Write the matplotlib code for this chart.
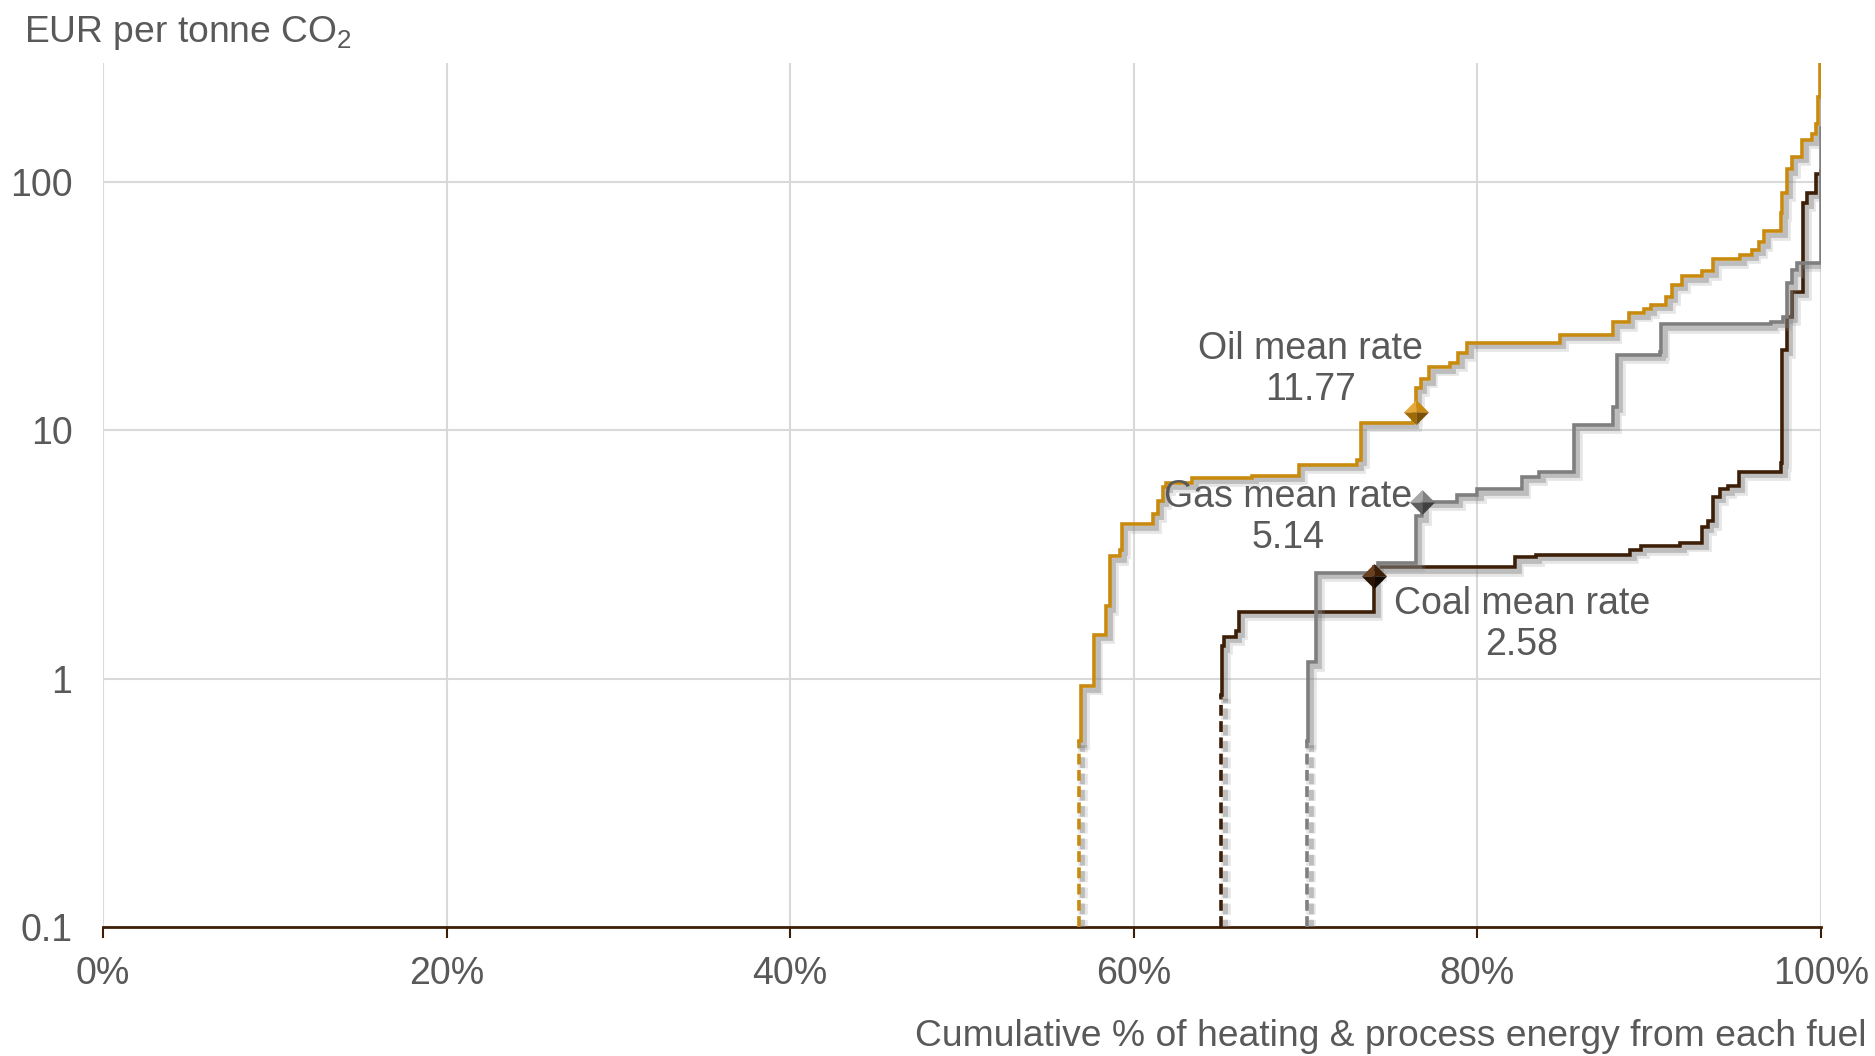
import matplotlib.pyplot as plt
import matplotlib.patheffects as pe
from matplotlib.ticker import NullLocator

plt.rcParams['font.family'] = ['Liberation Sans', 'DejaVu Sans']
plt.rcParams['mathtext.fontset'] = 'custom'
plt.rcParams['mathtext.rm'] = 'Liberation Sans'

# cumulative % of energy where each step starts, and the rate (EUR/tCO2) from there on
oil_x = [56.8, 56.9, 57.7, 58.4, 58.6, 59.2, 59.3, 61.1, 61.4, 61.7, 61.9, 63.4, 66.9,
         69.6, 73.0, 73.2, 76.25, 76.3, 76.4, 76.7, 77.2, 78.4, 78.9, 79.4, 84.8, 87.9,
         88.8, 89.7, 90.1, 91.0, 91.3, 91.9, 93.1, 93.7, 95.3, 96.0, 96.4, 96.7, 97.7,
         97.75, 98.0, 98.3, 98.9, 99.5, 99.7, 99.85, 99.95, 100.0]
oil_y = [0.56, 0.93, 1.5, 1.95, 3.1, 3.3, 4.17, 4.6, 5.2, 5.9, 6.1, 6.44, 6.55,
         7.26, 7.6, 10.7, 11.2, 12.5, 14.8, 16.0, 17.9, 18.7, 20.5, 22.5, 24.2, 27.1,
         29.5, 30.6, 32.0, 34.4, 38.5, 41.5, 43.5, 48.6, 50.8, 53.2, 56.9, 63.0, 75.0,
         90.0, 112.0, 126.0, 147.0, 155.0, 170.0, 220.0, 300.0, 300.0]

gas_x = [70.1, 70.12, 70.6, 74.2, 76.4, 76.8, 78.8, 80.0, 82.6, 83.6, 85.6, 87.9,
         88.1, 90.6, 90.7, 97.1, 97.8, 98.0, 98.3, 98.6, 100.0]
gas_y = [0.56, 1.16, 2.67, 2.93, 4.49, 5.15, 5.5, 5.77, 6.5, 6.8, 10.5, 12.4,
         20.1, 20.7, 26.6, 27.3, 28.5, 39.0, 44.0, 47.2, 165.0]

coal_x = [65.1, 65.12, 65.25, 65.95, 66.1, 74.0, 82.2, 83.4, 88.9, 89.5, 91.8, 93.1,
          93.4, 93.7, 94.1, 94.6, 95.2, 97.7, 97.75, 98.0, 98.3, 98.95, 99.2, 99.7, 100.0]
coal_y = [0.86, 1.35, 1.47, 1.55, 1.86, 2.8, 3.07, 3.15, 3.3, 3.4, 3.5, 4.09,
          4.29, 5.4, 5.77, 5.93, 6.8, 7.4, 21.0, 28.6, 36.0, 82.0, 90.0, 107.0, 110.0]

fuels = ['Oil', 'Gas', 'Coal']
mean_rates = [11.77, 5.14, 2.58]
mean_pos = [76.4, 76.8, 74.0]

colors = {'Oil': '#C98A10', 'Gas': '#7F7F7F', 'Coal': '#3D1F08'}
facets = {'Oil': ['#E6A838', '#C98A10', '#9E6A06', '#7A5004'],
          'Gas': ['#A8A8A8', '#808080', '#5E5E5E', '#404040'],
          'Coal': ['#6A4020', '#3D1F08', '#2A1404', '#140900']}
label_pos = {'Oil': (70.3, 17.5), 'Gas': (69.0, 4.44), 'Coal': (82.6, 1.65)}

text_color = '#595959'
shadow = [pe.SimpleLineShadow(offset=(3, -3), shadow_color='#909090', alpha=0.22, linewidth=7),
          pe.SimpleLineShadow(offset=(2.5, -2.5), shadow_color='#808080', alpha=0.4, linewidth=3.5),
          pe.Normal()]

fig = plt.figure(figsize=(18.75, 10.56), dpi=100)
ax = fig.add_axes([0.0549, 0.1222, 0.9163, 0.8181])

series = {'Oil': (oil_x, oil_y), 'Gas': (gas_x, gas_y), 'Coal': (coal_x, coal_y)}
for name in ['Coal', 'Gas', 'Oil']:
    xs, ys = series[name]
    c = colors[name]
    # dashed lead-in from the bottom of the axis up to the first rate
    ax.plot([xs[0], xs[0]], [0.1, ys[0]], color=c, lw=2.6, ls=(0, (3.0, 1.5)),
            path_effects=shadow, zorder=3)
    ax.plot(xs, ys, drawstyle='steps-post', color=c, lw=2.6,
            solid_joinstyle='miter', path_effects=shadow, zorder=3)

# bevelled diamonds at the mean rate of each fuel
tri = [[(-1, 0), (0, 1), (0, 0)], [(0, 1), (1, 0), (0, 0)],
       [(-1, 0), (0, -1), (0, 0)], [(0, -1), (1, 0), (0, 0)]]
for name, m, xp in zip(fuels, mean_rates, mean_pos):
    ax.plot([xp], [m], marker='D', ms=13, color='#808080', alpha=0.35,
            markeredgewidth=0, zorder=4,
            path_effects=[pe.SimpleLineShadow(offset=(3, -3), alpha=0.4)])
    for verts, fc in zip(tri, facets[name]):
        ax.plot([xp], [m], marker=verts, ms=18, color=fc, markeredgewidth=0, zorder=5)
    tx, ty = label_pos[name]
    ax.text(tx, ty, f'{name} mean rate\n{m:.2f}', ha='center', va='center',
            multialignment='center', fontsize=27, color=text_color,
            linespacing=1.2, zorder=6)

ax.set_yscale('log')
ax.set_xlim(0, 100)
ax.set_ylim(0.1, 300)
ax.set_xticks(range(0, 101, 20))
ax.set_xticklabels([f'{v}%' for v in range(0, 101, 20)])
ax.set_yticks([0.1, 1, 10, 100])
ax.set_yticklabels(['0.1', '1', '10', '100'])
ax.yaxis.set_minor_locator(NullLocator())
ax.tick_params(axis='y', length=0, pad=22, labelsize=27, labelcolor=text_color)
ax.tick_params(axis='x', length=8, width=1.5, color='#3D1F08', pad=13,
               labelsize=27, labelcolor=text_color)
ax.grid(True, color='#D9D9D9', lw=1.5)
ax.set_axisbelow(True)
for side in ['top', 'left', 'right']:
    ax.spines[side].set_visible(False)
ax.spines['bottom'].set_color('#3D1F08')
ax.spines['bottom'].set_linewidth(2)
ax.spines['bottom'].set_zorder(2)

fig.text(24 / 1875, 0.9605, r'EUR per tonne CO$_\mathregular{2}$', fontsize=26.8,
         color=text_color, ha='left', va='baseline')
fig.text(0.9957, 0.009, 'Cumulative % of heating & process energy from each fuel',
         fontsize=26.8, color=text_color, ha='right', va='baseline')

fig.savefig('out.png', dpi=100, facecolor='white')
